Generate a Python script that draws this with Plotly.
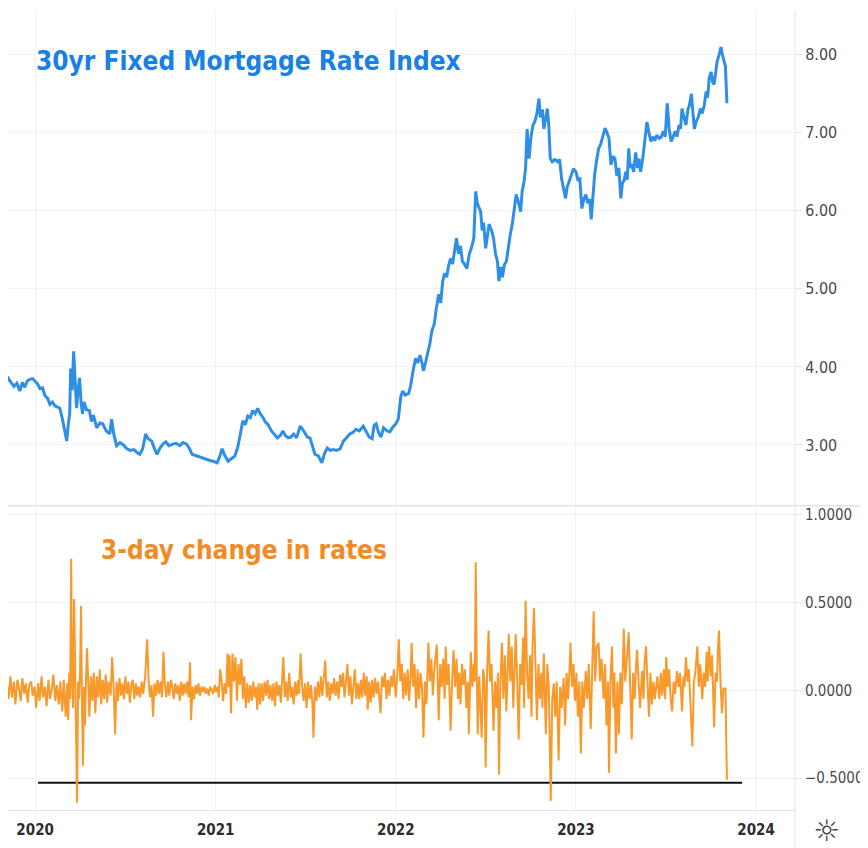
import plotly.graph_objects as go

# ---------------- data ----------------
rate_2019 = [("2019-11-01",3.85),("2019-11-07",3.86),("2019-11-13",3.80),("2019-11-19",3.75),("2019-11-25",3.79),
             ("2019-12-01",3.69),("2019-12-06",3.80),("2019-12-11",3.74),("2019-12-16",3.82),("2019-12-21",3.84),
             ("2019-12-27",3.85)]
rate_2020 = [("2020-01-01",3.82),("2020-01-06",3.78),("2020-01-11",3.72),("2020-01-16",3.73),("2020-01-21",3.63),
             ("2020-01-26",3.60),("2020-01-31",3.52),("2020-02-05",3.55),("2020-02-10",3.50),("2020-02-15",3.48),
             ("2020-02-20",3.47),("2020-02-25",3.34),("2020-02-29",3.22),("2020-03-05",3.05),("2020-03-08",3.25),
             ("2020-03-11",3.40),("2020-03-13",3.98),("2020-03-16",3.70),("2020-03-19",4.20),("2020-03-21",3.90),
             ("2020-03-23",3.55),("2020-03-25",3.47),("2020-03-28",3.70),("2020-03-31",3.86),("2020-04-03",3.55),
             ("2020-04-06",3.40),("2020-04-09",3.55),("2020-04-14",3.45),("2020-04-20",3.44),("2020-04-24",3.30),
             ("2020-04-28",3.38),("2020-05-05",3.22),("2020-05-11",3.28),("2020-05-17",3.27),("2020-05-24",3.18),
             ("2020-05-31",3.14),("2020-06-04",3.33),("2020-06-08",3.15),("2020-06-14",2.99),("2020-06-21",3.03),
             ("2020-06-28",3.00),("2020-07-05",2.95),("2020-07-12",2.93),("2020-07-19",2.94),("2020-07-26",2.90),
             ("2020-07-31",2.88),("2020-08-06",2.95),("2020-08-12",3.14),("2020-08-17",3.08),("2020-08-24",3.05),
             ("2020-08-30",2.95),("2020-09-04",2.88),("2020-09-10",2.96),("2020-09-16",3.01),("2020-09-22",3.04),
             ("2020-09-28",2.99),("2020-10-06",3.01),("2020-10-13",3.02),("2020-10-20",2.99),("2020-10-27",3.03),
             ("2020-11-03",3.01),("2020-11-09",2.95),("2020-11-14",2.88),("2020-11-22",2.86),("2020-11-30",2.84),
             ("2020-12-07",2.83),("2020-12-14",2.81),("2020-12-20",2.80),("2020-12-27",2.79)]
rate_2021 = [("2021-01-04",2.77),("2021-01-09",2.85),("2021-01-14",2.95),("2021-01-19",2.87),("2021-01-26",2.79),
             ("2021-02-01",2.82),("2021-02-09",2.86),("2021-02-15",2.98),("2021-02-20",3.15),("2021-02-25",3.31),
             ("2021-03-02",3.26),("2021-03-07",3.37),("2021-03-12",3.35),("2021-03-17",3.44),("2021-03-22",3.40),
             ("2021-03-27",3.47),("2021-04-01",3.40),("2021-04-06",3.36),("2021-04-11",3.30),("2021-04-17",3.26),
             ("2021-04-24",3.18),("2021-05-01",3.12),("2021-05-06",3.09),("2021-05-12",3.12),("2021-05-17",3.18),
             ("2021-05-22",3.12),("2021-05-28",3.09),("2021-06-02",3.10),("2021-06-08",3.14),("2021-06-14",3.09),
             ("2021-06-21",3.24),("2021-06-26",3.20),("2021-07-01",3.15),("2021-07-06",3.10),("2021-07-11",3.09),
             ("2021-07-16",2.98),("2021-07-21",2.88),("2021-07-28",2.86),("2021-08-04",2.77),("2021-08-10",2.90),
             ("2021-08-15",2.96),("2021-08-21",2.93),("2021-08-27",2.94),("2021-09-03",2.93),("2021-09-10",2.95),
             ("2021-09-17",3.05),("2021-09-24",3.10),("2021-09-30",3.14),("2021-10-06",3.16),("2021-10-12",3.20),
             ("2021-10-19",3.18),("2021-10-27",3.24),("2021-11-02",3.17),("2021-11-08",3.10),("2021-11-14",3.08),
             ("2021-11-18",3.25),("2021-11-22",3.27),("2021-11-27",3.16),("2021-12-02",3.10),("2021-12-07",3.22),
             ("2021-12-14",3.18),("2021-12-20",3.17),("2021-12-26",3.23)]
rate_2022 = [("2022-01-01",3.27),("2022-01-06",3.33),("2022-01-11",3.62),("2022-01-15",3.69),("2022-01-20",3.64),
             ("2022-01-27",3.66),("2022-01-31",3.76),("2022-02-05",3.95),("2022-02-10",4.11),("2022-02-14",4.05),
             ("2022-02-19",4.15),("2022-02-23",4.05),("2022-02-26",3.95),("2022-03-02",4.05),("2022-03-07",4.18),
             ("2022-03-11",4.30),("2022-03-15",4.46),("2022-03-20",4.55),("2022-03-24",4.75),("2022-03-29",4.93),
             ("2022-04-02",4.82),("2022-04-06",5.10),("2022-04-10",5.20),("2022-04-14",5.15),("2022-04-18",5.30),
             ("2022-04-22",5.39),("2022-04-26",5.32),("2022-04-30",5.50),("2022-05-04",5.65),("2022-05-08",5.45),
             ("2022-05-12",5.55),("2022-05-16",5.35),("2022-05-20",5.32),("2022-05-25",5.26),("2022-05-30",5.45),
             ("2022-06-03",5.52),("2022-06-08",5.65),("2022-06-12",6.25),("2022-06-15",6.10),("2022-06-18",6.05),
             ("2022-06-22",5.99),("2022-06-25",5.75),("2022-06-28",5.85),("2022-07-02",5.52),("2022-07-06",5.70),
             ("2022-07-09",5.83),("2022-07-14",5.75),("2022-07-18",5.65),("2022-07-22",5.45),("2022-07-26",5.35),
             ("2022-07-29",5.10),("2022-08-02",5.28),("2022-08-05",5.15),("2022-08-09",5.31),("2022-08-13",5.35),
             ("2022-08-17",5.55),("2022-08-21",5.70),("2022-08-25",5.83),("2022-08-29",6.00),("2022-09-02",6.21),
             ("2022-09-07",6.10),("2022-09-11",5.99),("2022-09-14",6.25),("2022-09-18",6.38),("2022-09-21",6.55),
             ("2022-09-24",7.05),("2022-09-28",6.67),("2022-10-02",6.95),("2022-10-06",7.10),("2022-10-10",7.15),
             ("2022-10-14",7.25),("2022-10-18",7.44),("2022-10-21",7.20),("2022-10-25",7.30),("2022-10-28",7.05),
             ("2022-11-01",7.20),("2022-11-04",7.31),("2022-11-07",7.10),("2022-11-10",6.67),("2022-11-14",6.63),
             ("2022-11-19",6.66),("2022-11-25",6.63),("2022-11-29",6.66),("2022-12-03",6.41),("2022-12-07",6.30),
             ("2022-12-11",6.16),("2022-12-14",6.30),("2022-12-18",6.38),("2022-12-22",6.45),("2022-12-27",6.54)]
rate_2023 = [("2023-01-01",6.50),("2023-01-05",6.40),("2023-01-09",6.41),("2023-01-13",6.03),("2023-01-17",6.15),
             ("2023-01-21",6.21),("2023-01-25",6.10),("2023-01-29",6.15),("2023-02-01",5.89),("2023-02-05",6.20),
             ("2023-02-08",6.47),("2023-02-12",6.65),("2023-02-16",6.80),("2023-02-20",6.85),("2023-02-24",6.95),
             ("2023-03-01",7.06),("2023-03-05",7.00),("2023-03-09",6.93),("2023-03-13",6.59),("2023-03-17",6.70),
             ("2023-03-21",6.67),("2023-03-25",6.45),("2023-03-29",6.55),("2023-04-02",6.16),("2023-04-05",6.35),
             ("2023-04-09",6.40),("2023-04-12",6.50),("2023-04-15",6.40),("2023-04-18",6.80),("2023-04-21",6.55),
             ("2023-04-25",6.60),("2023-04-28",6.50),("2023-05-02",6.75),("2023-05-06",6.55),("2023-05-09",6.67),
             ("2023-05-12",6.50),("2023-05-16",6.65),("2023-05-20",6.85),("2023-05-25",7.14),("2023-05-29",7.00),
             ("2023-06-02",6.89),("2023-06-06",6.95),("2023-06-10",6.90),("2023-06-14",6.97),("2023-06-19",6.93),
             ("2023-06-23",6.95),("2023-06-27",7.02),("2023-07-01",6.95),("2023-07-05",7.38),("2023-07-09",7.05),
             ("2023-07-13",6.89),("2023-07-17",6.95),("2023-07-21",7.02),("2023-07-25",6.95),("2023-07-29",7.10),
             ("2023-08-01",7.05),("2023-08-04",7.31),("2023-08-08",7.20),("2023-08-12",7.10),("2023-08-16",7.30),
             ("2023-08-19",7.35),("2023-08-23",7.50),("2023-08-26",7.30),("2023-08-29",7.05),("2023-09-02",7.15),
             ("2023-09-06",7.20),("2023-09-10",7.31),("2023-09-14",7.25),("2023-09-18",7.35),("2023-09-22",7.53),
             ("2023-09-25",7.45),("2023-09-28",7.70),("2023-10-02",7.78),("2023-10-05",7.65),("2023-10-08",7.62),
             ("2023-10-11",7.80),("2023-10-14",7.91),("2023-10-18",8.00),("2023-10-22",8.10),("2023-10-25",8.00),
             ("2023-10-28",7.91),("2023-10-31",7.85),("2023-11-03",7.38)]

chg_2019 = [("2019-11-05",0.03),("2019-11-08",-0.05),("2019-11-12",0.08),("2019-11-15",-0.04),("2019-11-19",0.05),
            ("2019-11-22",-0.08),("2019-11-26",0.06),("2019-11-29",0.02),("2019-12-03",-0.06),("2019-12-06",0.07),
            ("2019-12-10",-0.02),("2019-12-13",0.04),("2019-12-17",-0.07),("2019-12-20",0.03),("2019-12-24",0.05),
            ("2019-12-27",-0.03),("2019-12-31",0.02)]
chg_2020 = [("2020-01-03",-0.10),("2020-01-07",0.04),("2020-01-10",-0.06),("2020-01-14",0.08),("2020-01-17",-0.04),
            ("2020-01-21",0.02),("2020-01-24",-0.09),("2020-01-28",0.06),("2020-01-31",-0.05),("2020-02-04",0.01),
            ("2020-02-07",0.09),("2020-02-11",-0.06),("2020-02-14",0.03),("2020-02-18",-0.08),("2020-02-21",0.05),
            ("2020-02-25",-0.12),("2020-02-28",0.06),("2020-03-03",-0.15),("2020-03-06",0.04),("2020-03-08",-0.17),
            ("2020-03-10",0.10),("2020-03-12",-0.05),("2020-03-14",0.75),("2020-03-16",0.05),("2020-03-18",-0.10),
            ("2020-03-20",0.52),("2020-03-22",0.10),("2020-03-24",-0.20),("2020-03-26",-0.64),("2020-03-28",0.05),
            ("2020-03-30",-0.05),("2020-04-01",0.10),("2020-04-03",0.48),("2020-04-05",-0.10),("2020-04-07",-0.43),
            ("2020-04-09",0.02),("2020-04-11",-0.20),("2020-04-13",0.05),("2020-04-15",0.24),("2020-04-17",0.10),
            ("2020-04-20",-0.15),("2020-04-23",0.08),("2020-04-26",-0.06),("2020-04-29",0.10),("2020-05-02",-0.13),
            ("2020-05-05",0.08),("2020-05-08",-0.04),("2020-05-11",0.12),("2020-05-14",-0.08),("2020-05-17",0.06),
            ("2020-05-20",-0.05),("2020-05-23",0.09),("2020-05-26",-0.07),("2020-05-29",0.05),("2020-06-02",-0.03),
            ("2020-06-05",0.19),("2020-06-08",0.02),("2020-06-11",-0.25),("2020-06-14",0.05),("2020-06-17",-0.06),
            ("2020-06-20",0.07),("2020-06-23",-0.03),("2020-06-26",0.04),("2020-06-29",-0.05),("2020-07-02",0.08),
            ("2020-07-05",-0.02),("2020-07-08",0.05),("2020-07-11",-0.07),("2020-07-14",0.03),("2020-07-17",0.06),
            ("2020-07-20",-0.05),("2020-07-23",0.04),("2020-07-26",-0.03),("2020-07-29",0.02),("2020-08-01",-0.04),
            ("2020-08-04",0.05),("2020-08-07",-0.02),("2020-08-11",0.08),("2020-08-15",0.29),("2020-08-18",0.05),
            ("2020-08-21",-0.04),("2020-08-24",0.03),("2020-08-27",-0.15),("2020-08-30",0.04),("2020-09-02",-0.03),
            ("2020-09-05",0.06),("2020-09-08",-0.02),("2020-09-11",0.05),("2020-09-14",-0.04),("2020-09-17",0.22),
            ("2020-09-20",0.03),("2020-09-23",-0.04),("2020-09-26",0.05),("2020-09-29",-0.03),("2020-10-02",0.06),
            ("2020-10-05",0.02),("2020-10-08",-0.05),("2020-10-11",0.04),("2020-10-14",-0.02),("2020-10-17",0.03),
            ("2020-10-20",-0.06),("2020-10-23",0.05),("2020-10-26",-0.03),("2020-10-29",0.04),("2020-11-01",-0.02),
            ("2020-11-04",0.05),("2020-11-07",-0.04),("2020-11-10",0.16),("2020-11-12",-0.17),("2020-11-15",0.02),
            ("2020-11-18",-0.05),("2020-11-21",0.03),("2020-11-24",-0.02),("2020-11-27",0.04),("2020-11-30",-0.03),
            ("2020-12-03",0.02),("2020-12-06",-0.01),("2020-12-09",0.02),("2020-12-12",-0.02),("2020-12-15",0.01),
            ("2020-12-18",-0.03),("2020-12-21",0.02),("2020-12-24",0.00),("2020-12-27",-0.02),("2020-12-30",0.03)]
chg_2021 = [("2021-01-02",-0.01),("2021-01-05",0.02),("2021-01-07",-0.04),("2021-01-10",0.12),("2021-01-13",0.05),
            ("2021-01-16",-0.06),("2021-01-19",0.04),("2021-01-22",-0.02),("2021-01-25",0.21),("2021-01-27",0.02),
            ("2021-01-29",0.20),("2021-02-01",-0.13),("2021-02-04",0.21),("2021-02-07",0.05),("2021-02-10",0.19),
            ("2021-02-13",-0.06),("2021-02-16",0.15),("2021-02-19",0.03),("2021-02-22",0.18),("2021-02-25",-0.05),
            ("2021-02-28",0.08),("2021-03-03",-0.10),("2021-03-06",0.04),("2021-03-09",-0.07),("2021-03-12",0.03),
            ("2021-03-15",-0.06),("2021-03-18",0.05),("2021-03-21",-0.04),("2021-03-24",0.02),("2021-03-26",-0.11),
            ("2021-03-29",0.04),("2021-04-01",-0.08),("2021-04-04",0.04),("2021-04-07",-0.06),("2021-04-10",0.05),
            ("2021-04-13",-0.03),("2021-04-16",0.06),("2021-04-19",-0.05),("2021-04-22",0.03),("2021-04-25",-0.06),
            ("2021-04-28",0.04),("2021-05-01",-0.09),("2021-05-04",0.05),("2021-05-07",-0.03),("2021-05-10",0.03),
            ("2021-05-13",-0.07),("2021-05-16",0.06),("2021-05-18",0.19),("2021-05-21",-0.04),("2021-05-24",0.05),
            ("2021-05-27",-0.06),("2021-05-30",0.10),("2021-06-02",-0.04),("2021-06-05",0.02),("2021-06-08",-0.08),
            ("2021-06-11",0.05),("2021-06-14",-0.03),("2021-06-17",0.06),("2021-06-19",-0.02),("2021-06-22",0.21),
            ("2021-06-25",0.03),("2021-06-28",-0.06),("2021-07-01",0.04),("2021-07-04",-0.10),("2021-07-07",0.05),
            ("2021-07-10",-0.05),("2021-07-13",0.03),("2021-07-16",-0.08),("2021-07-18",-0.27),("2021-07-21",0.02),
            ("2021-07-24",-0.06),("2021-07-27",0.05),("2021-07-30",-0.04),("2021-08-02",0.08),("2021-08-05",-0.03),
            ("2021-08-08",0.06),("2021-08-11",0.17),("2021-08-14",-0.04),("2021-08-17",0.05),("2021-08-20",-0.06),
            ("2021-08-23",0.04),("2021-08-26",-0.02),("2021-08-29",0.07),("2021-09-01",-0.03),("2021-09-04",0.05),
            ("2021-09-07",-0.05),("2021-09-10",0.09),("2021-09-13",0.02),("2021-09-16",0.10),("2021-09-19",-0.04),
            ("2021-09-22",0.06),("2021-09-25",0.15),("2021-09-28",-0.03),("2021-10-01",0.08),("2021-10-04",-0.08),
            ("2021-10-07",0.05),("2021-10-10",0.12),("2021-10-13",-0.05),("2021-10-16",0.04),("2021-10-19",-0.05),
            ("2021-10-22",0.06),("2021-10-25",-0.04),("2021-10-28",0.10),("2021-10-31",-0.03),("2021-11-03",0.08),
            ("2021-11-05",-0.11),("2021-11-08",0.05),("2021-11-11",-0.07),("2021-11-14",0.06),("2021-11-17",-0.04),
            ("2021-11-20",0.07),("2021-11-23",-0.02),("2021-11-26",0.05),("2021-11-29",-0.06),("2021-12-01",-0.13),
            ("2021-12-04",0.08),("2021-12-07",0.02),("2021-12-10",0.10),("2021-12-13",-0.05),("2021-12-16",0.06),
            ("2021-12-19",-0.03),("2021-12-22",0.08),("2021-12-25",0.02),("2021-12-28",0.12)]
chg_2022 = [("2022-01-01",-0.04),("2022-01-04",0.10),("2022-01-07",0.29),("2022-01-10",0.05),("2022-01-13",0.15),
            ("2022-01-16",-0.05),("2022-01-19",0.10),("2022-01-22",-0.03),("2022-01-25",0.12),("2022-01-28",-0.06),
            ("2022-01-31",0.08),("2022-02-02",0.27),("2022-02-05",0.02),("2022-02-08",0.15),("2022-02-11",-0.10),
            ("2022-02-14",0.12),("2022-02-17",-0.05),("2022-02-20",0.10),("2022-02-23",0.02),("2022-02-26",-0.27),
            ("2022-03-01",0.05),("2022-03-04",-0.08),("2022-03-08",0.27),("2022-03-11",0.05),("2022-03-14",0.18),
            ("2022-03-17",-0.03),("2022-03-20",0.12),("2022-03-25",0.26),("2022-03-29",-0.17),("2022-04-01",0.15),
            ("2022-04-04",0.02),("2022-04-07",0.18),("2022-04-10",-0.05),("2022-04-12",0.25),("2022-04-15",0.03),
            ("2022-04-18",0.15),("2022-04-22",-0.23),("2022-04-25",0.05),("2022-04-28",0.23),("2022-05-01",0.02),
            ("2022-05-04",0.18),("2022-05-07",-0.05),("2022-05-09",0.10),("2022-05-12",-0.08),("2022-05-15",0.15),
            ("2022-05-18",0.03),("2022-05-21",0.12),("2022-05-24",-0.10),("2022-05-27",0.05),("2022-05-29",-0.25),
            ("2022-06-02",0.22),("2022-06-05",0.02),("2022-06-08",0.15),("2022-06-10",0.05),("2022-06-12",0.73),
            ("2022-06-14",0.10),("2022-06-16",-0.25),("2022-06-19",0.08),("2022-06-21",-0.10),("2022-06-24",-0.27),
            ("2022-06-27",0.12),("2022-06-30",0.05),("2022-07-02",-0.44),("2022-07-05",0.10),("2022-07-08",0.34),
            ("2022-07-11",0.05),("2022-07-14",0.15),("2022-07-18",-0.23),("2022-07-21",0.05),("2022-07-24",-0.10),
            ("2022-07-27",0.10),("2022-07-29",-0.48),("2022-08-01",0.05),("2022-08-04",0.27),("2022-08-07",-0.05),
            ("2022-08-10",0.20),("2022-08-13",-0.12),("2022-08-15",0.10),("2022-08-18",0.32),("2022-08-21",0.05),
            ("2022-08-24",0.25),("2022-08-27",-0.10),("2022-08-30",0.15),("2022-09-01",0.32),("2022-09-04",0.05),
            ("2022-09-07",-0.28),("2022-09-10",0.15),("2022-09-13",0.03),("2022-09-16",0.30),("2022-09-18",-0.10),
            ("2022-09-21",0.51),("2022-09-24",0.10),("2022-09-27",-0.05),("2022-09-30",0.20),("2022-10-03",-0.15),
            ("2022-10-05",0.25),("2022-10-08",0.47),("2022-10-11",0.05),("2022-10-14",-0.17),("2022-10-17",0.15),
            ("2022-10-20",-0.05),("2022-10-23",0.10),("2022-10-25",-0.10),("2022-10-28",0.21),("2022-11-01",-0.25),
            ("2022-11-04",0.15),("2022-11-07",0.02),("2022-11-11",-0.63),("2022-11-14",-0.05),("2022-11-17",0.04),
            ("2022-11-20",-0.15),("2022-11-23",0.05),("2022-11-27",-0.40),("2022-11-30",0.02),("2022-12-03",-0.10),
            ("2022-12-07",0.07),("2022-12-10",-0.20),("2022-12-13",0.10),("2022-12-16",-0.05),("2022-12-19",0.12),
            ("2022-12-21",0.27),("2022-12-24",0.02),("2022-12-27",0.15),("2022-12-30",-0.06)]
chg_2023 = [("2023-01-02",0.10),("2023-01-05",-0.15),("2023-01-08",0.05),("2023-01-11",-0.36),("2023-01-14",0.05),
            ("2023-01-17",-0.10),("2023-01-21",0.11),("2023-01-24",-0.05),("2023-01-27",0.15),("2023-01-31",-0.22),
            ("2023-02-03",0.10),("2023-02-06",0.45),("2023-02-09",0.05),("2023-02-12",0.25),("2023-02-16",0.27),
            ("2023-02-19",0.05),("2023-02-22",0.18),("2023-02-26",-0.05),("2023-03-01",0.15),("2023-03-04",-0.20),
            ("2023-03-07",0.05),("2023-03-09",-0.47),("2023-03-12",0.05),("2023-03-15",0.25),("2023-03-18",-0.10),
            ("2023-03-20",0.10),("2023-03-23",-0.36),("2023-03-26",0.05),("2023-03-29",-0.25),("2023-04-01",0.10),
            ("2023-04-04",-0.08),("2023-04-08",0.35),("2023-04-11",0.05),("2023-04-14",0.20),("2023-04-18",0.33),
            ("2023-04-21",0.02),("2023-04-24",-0.28),("2023-04-27",0.10),("2023-04-30",-0.05),("2023-05-03",0.15),
            ("2023-05-05",0.23),("2023-05-08",0.05),("2023-05-11",-0.10),("2023-05-15",0.11),("2023-05-18",-0.05),
            ("2023-05-20",0.15),("2023-05-23",0.25),("2023-05-26",0.05),("2023-05-29",-0.15),("2023-06-01",0.10),
            ("2023-06-04",-0.08),("2023-06-07",0.05),("2023-06-10",-0.05),("2023-06-12",0.00),("2023-06-15",0.08),
            ("2023-06-19",-0.05),("2023-06-22",0.10),("2023-06-25",-0.03),("2023-06-28",0.12),("2023-07-01",-0.05),
            ("2023-07-03",0.19),("2023-07-06",0.02),("2023-07-09",0.12),("2023-07-12",-0.05),("2023-07-15",-0.12),
            ("2023-07-18",0.05),("2023-07-21",-0.02),("2023-07-25",0.11),("2023-07-28",0.02),("2023-07-31",0.10),
            ("2023-08-04",-0.12),("2023-08-07",0.08),("2023-08-09",0.02),("2023-08-12",0.19),("2023-08-15",0.05),
            ("2023-08-18",0.12),("2023-08-21",-0.08),("2023-08-25",-0.32),("2023-08-28",0.05),("2023-08-31",0.10),
            ("2023-09-04",0.25),("2023-09-07",0.02),("2023-09-10",0.15),("2023-09-14",-0.05),("2023-09-17",0.10),
            ("2023-09-20",0.02),("2023-09-23",0.22),("2023-09-25",0.05),("2023-09-28",0.25),("2023-10-01",0.08),
            ("2023-10-04",0.20),("2023-10-06",-0.05),("2023-10-08",-0.21),("2023-10-11",0.10),("2023-10-14",0.05),
            ("2023-10-16",0.25),("2023-10-18",0.34),("2023-10-21",0.05),("2023-10-24",-0.13),("2023-10-27",0.01),
            ("2023-10-31",0.01),("2023-11-03",-0.51)]

support_level = -0.527
support_dates = ["2020-01-07", "2023-12-04"]

rate_ticks = [3, 4, 5, 6, 7, 8]
chg_ticks = [-0.5, 0.0, 0.5, 1.0]
year_ticks = ["2020-01-01", "2021-01-01", "2022-01-01", "2023-01-01", "2024-01-01"]
year_labels = ["2020", "2021", "2022", "2023", "2024"]

title_top = "30yr Fixed Mortgage Rate Index"
title_bottom = "3-day change in rates"

# ---------------- build ----------------
rate = rate_2019 + rate_2020 + rate_2021 + rate_2022 + rate_2023
chg = chg_2019 + chg_2020 + chg_2021 + chg_2022 + chg_2023
rate_x = [d for d, _ in rate]
rate_y = [v for _, v in rate]
chg_x = [d for d, _ in chg]
chg_y = [v for _, v in chg]

FONT = "DejaVu Sans Condensed, DejaVu Sans, sans-serif"
GRID = "#f0f2f6"
AXIS = "#e0e3eb"

fig = go.Figure()
fig.add_trace(go.Scatter(x=rate_x, y=rate_y, mode="lines", line=dict(color="#2f8fe6", width=3),
                         xaxis="x", yaxis="y", showlegend=False))
fig.add_trace(go.Scatter(x=support_dates, y=[support_level, support_level], mode="lines",
                         line=dict(color="#111111", width=2), xaxis="x2", yaxis="y2", showlegend=False))
fig.add_trace(go.Scatter(x=chg_x, y=chg_y, mode="lines", line=dict(color="#f8992c", width=2),
                         xaxis="x2", yaxis="y2", showlegend=False))

xr = ["2019-11-07", "2024-03-20"]
# page has an 8px body margin: the figure occupies page pixels 8..868 x 8..848
W, H = 860, 840
ml, mr, mt, mb = 0, 73, 0, 38
pw, ph = W - ml - mr, H - mt - mb
OFF = 8


def px(x):  # page pixel x -> paper
    return (x - OFF - ml) / pw


def py(y):  # page pixel y -> paper
    return (H - mb - (y - OFF)) / ph


fig.update_layout(
    width=W, height=H,
    margin=dict(l=ml, r=mr, t=mt, b=mb),
    paper_bgcolor="white", plot_bgcolor="white",
    font=dict(family=FONT, color="#444"),
    xaxis=dict(domain=[0, 1], anchor="y", range=xr, type="date", matches="x2",
               tickvals=year_ticks, showticklabels=False, showgrid=True, gridcolor=GRID,
               zeroline=False, showline=False),
    xaxis2=dict(domain=[0, 1], anchor="y2", range=xr, type="date",
                tickvals=year_ticks, ticktext=year_labels, showgrid=True, gridcolor=GRID,
                tickfont=dict(size=15, color="#2e2e2e", family=FONT, weight="bold"),
                ticks="", ticklabelstandoff=6,
                zeroline=False, showline=True, linecolor=AXIS, linewidth=1),
    yaxis=dict(domain=[py(505), 1], anchor="x", side="right", range=[2.22, 8.575],
               tickvals=rate_ticks, tickformat=".2f", showgrid=True, gridcolor=GRID,
               ticks="outside", ticklen=6, tickcolor=AXIS,
               tickfont=dict(size=16, color="#4a4a4a", family=FONT),
               zeroline=False, showline=False),
    yaxis2=dict(domain=[0, py(507)], anchor="x2", side="right", range=[-0.682, 1.04],
                tickvals=chg_ticks, tickformat=".4f", showgrid=True, gridcolor=GRID,
                ticks="outside", ticklen=6, tickcolor=AXIS,
                tickfont=dict(size=15, color="#4a4a4a", family=FONT),
                zeroline=False, showline=False),
    shapes=[
        dict(type="line", xref="paper", yref="paper", x0=px(8), x1=px(868), y0=py(505), y1=py(505),
             line=dict(color=AXIS, width=1.5)),
        dict(type="line", xref="paper", yref="paper", x0=1, x1=1, y0=py(848), y1=py(8),
             line=dict(color=AXIS, width=1)),
    ],
    annotations=[
        dict(text=title_top, xref="paper", yref="paper", x=px(34), y=py(59), xanchor="left", yanchor="middle",
             showarrow=False, font=dict(family=FONT, size=26, color="#1a80e2", weight="bold")),
        dict(text=title_bottom, xref="paper", yref="paper", x=px(99), y=py(549), xanchor="left", yanchor="middle",
             showarrow=False, font=dict(family=FONT, size=26, color="#f28a26", weight="bold")),
        dict(text="☼", xref="paper", yref="paper", x=px(826), y=py(831), xanchor="center", yanchor="middle",
             showarrow=False, font=dict(family="DejaVu Sans", size=30, color="#444")),
    ],
)

fig.write_html("out.html")
